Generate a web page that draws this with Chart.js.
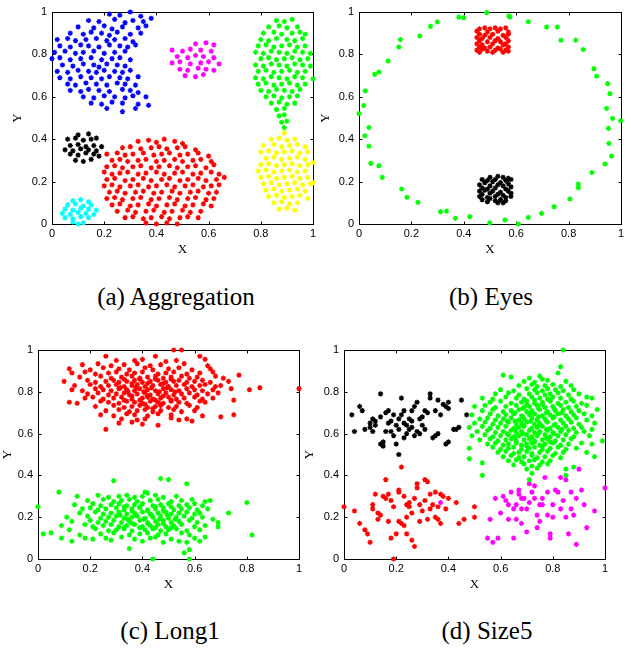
<!DOCTYPE html>
<html><head><meta charset="utf-8">
<script src="https://cdn.jsdelivr.net/npm/chart.js@4/dist/chart.umd.min.js"></script>
<style>
body{margin:0;background:#fff;width:631px;height:648px;position:relative;overflow:hidden}
.c{position:absolute}
.cap{position:absolute;font-size:25px;font-family:"Liberation Serif","DejaVu Serif Condensed","DejaVu Serif",serif;color:#000;white-space:nowrap;transform:translate(-50%,-50%)}
</style></head><body>
<canvas id="ca" class="c" width="320" height="262" style="left:0;top:0"></canvas>
<canvas id="cb" class="c" width="316" height="262" style="left:315px;top:0"></canvas>
<canvas id="cc" class="c" width="320" height="259" style="left:0;top:338px"></canvas>
<canvas id="cd" class="c" width="331" height="259" style="left:300px;top:338px"></canvas>
<div class="cap" id="capA" style="left:176px;top:297px"></div>
<div class="cap" id="capB" style="left:491px;top:297px"></div>
<div class="cap" id="capC" style="left:170px;top:631px"></div>
<div class="cap" id="capD" style="left:487px;top:631px"></div>
<script>
// ---------- tick labels ----------
const tickVals = [0, 0.2, 0.4, 0.6, 0.8, 1];
const tickLabels = ['0', '0.2', '0.4', '0.6', '0.8', '1'];
const axisTitles = ['X', 'Y'];
const captions = ['(a) Aggregation', '(b) Eyes', '(c) Long1', '(d) Size5'];

// ---------- (a) Aggregation ----------
const aggBlue = [
[.22,.99],[.26,.985],[.30,1.0],[.34,.98],
[.14,.96],[.18,.955],[.24,.965],[.28,.95],[.31,.96],[.35,.955],[.38,.97],
[.10,.93],[.16,.925],[.20,.935],[.23,.92],[.27,.93],[.33,.925],[.36,.935],
[.07,.90],[.12,.895],[.15,.905],[.19,.90],[.22,.89],[.25,.905],[.30,.895],[.34,.90],
[.02,.87],[.06,.875],[.09,.865],[.13,.87],[.17,.875],[.21,.865],[.24,.87],[.28,.875],[.31,.86],
[.03,.84],[.07,.835],[.11,.845],[.14,.84],[.18,.835],[.22,.845],[.26,.84],[.29,.835],[.32,.845],
[.01,.81],[.05,.815],[.09,.805],[.12,.81],[.16,.815],[.20,.805],[.24,.81],[.28,.815],
[.00,.78],[.03,.785],[.07,.775],[.11,.78],[.15,.785],[.19,.775],[.23,.78],[.26,.785],[.30,.775],
[.04,.75],[.08,.745],[.12,.755],[.16,.75],[.18,.74],[.21,.755],[.25,.75],[.28,.745],
[.02,.72],[.06,.715],[.10,.725],[.14,.72],[.17,.715],[.20,.725],[.24,.72],[.27,.715],[.30,.725],
[.03,.69],[.07,.685],[.11,.695],[.15,.69],[.19,.685],[.22,.695],[.26,.69],[.29,.685],[.33,.695],
[.06,.66],[.09,.655],[.13,.665],[.17,.66],[.21,.655],[.25,.665],[.28,.66],[.32,.655],
[.07,.63],[.11,.625],[.14,.635],[.18,.63],[.22,.625],[.27,.635],[.30,.63],[.33,.62],
[.12,.60],[.16,.595],[.20,.605],[.24,.60],[.28,.595],[.31,.605],[.36,.60],
[.15,.57],[.19,.565],[.23,.575],[.27,.57],[.33,.565],[.37,.56],
[.21,.545],[.27,.53],[.32,.545]
];
const aggMagenta = [
[.55,.85],[.59,.855],[.62,.845],
[.46,.82],[.50,.815],[.53,.825],[.57,.82],[.61,.815],
[.48,.79],[.52,.785],[.55,.795],[.58,.79],[.62,.785],
[.46,.76],[.49,.765],[.53,.755],[.57,.76],[.60,.765],[.64,.755],
[.49,.73],[.52,.725],[.56,.735],[.59,.73],[.62,.725],
[.51,.70],[.55,.695],[.58,.705]
];
const aggGreen = [
[.86,.96],[.89,.955],[.92,.965],
[.83,.93],[.87,.935],[.90,.925],[.94,.93],
[.81,.90],[.85,.905],[.88,.895],[.92,.90],[.95,.905],[.97,.895],
[.80,.87],[.83,.865],[.86,.875],[.90,.87],[.93,.865],[.96,.875],
[.79,.84],[.82,.845],[.85,.835],[.88,.84],[.91,.845],[.94,.835],[.97,.84],
[.78,.81],[.81,.805],[.84,.815],[.87,.81],[.90,.805],[.93,.815],[.96,.81],[.99,.805],
[.80,.78],[.83,.785],[.86,.775],[.89,.78],[.92,.785],[.95,.775],[.98,.78],
[.78,.75],[.81,.745],[.84,.755],[.87,.75],[.90,.745],[.93,.755],[.96,.75],[.99,.745],
[.79,.72],[.82,.725],[.85,.715],[.88,.72],[.91,.725],[.94,.715],[.97,.72],
[.78,.69],[.81,.685],[.84,.695],[.87,.69],[.90,.685],[.93,.695],[.96,.69],[1.0,.685],
[.79,.66],[.82,.665],[.85,.655],[.88,.66],[.91,.665],[.94,.655],[.97,.66],
[.80,.63],[.83,.625],[.86,.635],[.89,.63],[.92,.625],[.95,.635],
[.82,.60],[.85,.605],[.88,.595],[.91,.60],[.94,.605],
[.84,.57],[.87,.575],[.90,.565],[.93,.57],
[.86,.54],[.89,.545],[.87,.51],[.89,.515],[.88,.48],[.90,.485],[.89,.455]
];
const aggYellow = [
[.89,.43],
[.84,.40],[.87,.405],[.90,.395],[.93,.40],
[.81,.37],[.85,.375],[.88,.365],[.91,.37],[.94,.375],[.97,.365],
[.80,.34],[.83,.345],[.86,.335],[.89,.34],[.92,.345],[.95,.335],[.98,.34],
[.82,.31],[.85,.315],[.88,.305],[.91,.31],[.94,.315],[.97,.305],
[.80,.28],[.83,.285],[.86,.275],[.89,.28],[.92,.285],[.95,.275],[.98,.28],[1.0,.29],
[.79,.25],[.82,.255],[.85,.245],[.88,.25],[.91,.255],[.94,.245],[.97,.25],
[.80,.22],[.83,.225],[.86,.215],[.89,.22],[.92,.225],[.95,.215],[.98,.22],[1.0,.195],
[.81,.19],[.84,.195],[.87,.185],[.90,.19],[.93,.195],[.96,.185],[.99,.19],
[.82,.16],[.85,.165],[.88,.155],[.91,.16],[.94,.165],[.97,.155],
[.83,.13],[.86,.135],[.89,.125],[.92,.13],[.95,.135],[.98,.12],
[.85,.10],[.88,.105],[.91,.095],[.94,.10],
[.87,.07],[.90,.075],[.93,.065]
];
const aggBlack = [
[.10,.42],[.14,.425],
[.06,.40],[.09,.405],[.12,.395],[.15,.40],[.17,.405],
[.07,.37],[.10,.375],[.13,.365],[.16,.37],[.19,.365],
[.05,.35],[.08,.345],[.11,.355],[.14,.35],[.17,.345],
[.07,.33],[.10,.325],[.13,.335],[.16,.33],[.18,.32],
[.09,.30],[.12,.295],[.15,.305]
];
const aggCyan = [
[.08,.11],[.11,.115],[.14,.105],
[.06,.09],[.09,.095],[.12,.085],[.15,.09],
[.05,.07],[.08,.065],[.11,.075],[.14,.07],[.17,.065],
[.04,.05],[.07,.045],[.10,.055],[.13,.05],[.16,.045],
[.05,.03],[.08,.025],[.11,.035],[.14,.03],
[.08,.01],[.12,.005],[.10,.0]
];
const aggRed = [
[.33,.39],[.37,.395],[.40,.385],[.43,.40],[.47,.39],[.50,.38],
[.27,.36],[.30,.365],[.34,.355],[.38,.36],[.41,.365],[.44,.355],[.48,.36],[.51,.365],[.55,.35],
[.21,.33],[.25,.335],[.28,.325],[.31,.33],[.35,.335],[.39,.325],[.42,.33],[.45,.335],[.49,.325],[.52,.33],[.56,.335],[.60,.32],
[.23,.30],[.26,.305],[.29,.295],[.33,.30],[.36,.305],[.40,.295],[.43,.30],[.47,.305],[.50,.295],[.54,.30],[.57,.305],[.61,.295],
[.21,.27],[.24,.275],[.27,.265],[.31,.27],[.34,.275],[.38,.265],[.41,.27],[.45,.275],[.48,.265],[.52,.27],[.55,.275],[.59,.265],[.62,.28],
[.20,.245],[.23,.235],[.26,.24],[.29,.245],[.33,.235],[.36,.24],[.40,.245],[.43,.235],[.47,.24],[.50,.245],[.54,.235],[.57,.24],[.61,.245],[.64,.235],
[.21,.21],[.24,.215],[.28,.205],[.31,.21],[.35,.215],[.38,.205],[.42,.21],[.45,.215],[.49,.205],[.52,.21],[.56,.215],[.59,.205],[.63,.21],[.66,.22],
[.20,.18],[.23,.185],[.26,.175],[.30,.18],[.33,.185],[.37,.175],[.40,.18],[.44,.185],[.47,.175],[.51,.18],[.54,.185],[.58,.175],[.61,.18],[.64,.185],
[.22,.15],[.25,.155],[.28,.145],[.32,.15],[.35,.155],[.39,.145],[.42,.15],[.46,.155],[.49,.145],[.53,.15],[.56,.155],[.60,.145],[.63,.15],
[.21,.12],[.24,.125],[.27,.115],[.31,.12],[.34,.125],[.38,.115],[.41,.12],[.45,.125],[.48,.115],[.52,.12],[.55,.125],[.59,.115],[.62,.12],
[.23,.09],[.26,.095],[.30,.085],[.33,.09],[.37,.095],[.40,.085],[.44,.09],[.47,.095],[.51,.085],[.54,.09],[.58,.095],[.61,.085],
[.25,.06],[.29,.065],[.32,.055],[.36,.06],[.39,.065],[.43,.055],[.46,.06],[.50,.065],[.53,.055],[.57,.06],
[.28,.03],[.31,.035],[.35,.025],[.38,.03],[.42,.035],[.45,.025],[.49,.03],[.52,.035],[.56,.03],
[.36,.005],[.40,.0],[.44,.005],[.48,.0]
];

// ---------- (b) Eyes ----------
const eyesGreen = [
[.487,.997],[.381,.976],[.400,.973],[.572,.981],[.576,.976],[.646,.954],[.716,.929],[.757,.929],
[.771,.867],[.827,.867],[.856,.823],[.897,.733],[.907,.697],[.949,.662],[.958,.615],[.945,.545],
[.968,.498],[.999,.487],[.952,.451],[.954,.380],[.964,.320],[.939,.283],[.889,.243],[.837,.188],
[.837,.171],[.805,.118],[.745,.082],[.697,.050],[.646,.031],[.608,.0],[.557,.019],[.499,.006],
[.423,.035],[.368,.027],[.334,.061],[.311,.058],[.225,.102],[.183,.126],[.163,.165],[.089,.220],
[.076,.275],[.045,.286],[.038,.367],[.022,.416],[.038,.455],[.0,.521],[.018,.559],[.024,.628],
[.060,.706],[.076,.717],[.111,.769],[.152,.835],[.158,.870],[.232,.887],[.273,.932],[.299,.953]
];
const eyesRed = [
[.46,.92],[.48,.925],[.50,.92],[.52,.925],[.54,.92],[.56,.925],
[.45,.91],[.49,.905],[.53,.91],[.57,.905],
[.46,.895],[.48,.89],[.51,.895],[.55,.89],[.57,.895],
[.45,.88],[.47,.875],[.50,.88],[.53,.875],[.56,.88],
[.46,.865],[.49,.86],[.52,.865],[.54,.86],[.57,.865],
[.45,.85],[.47,.845],[.51,.85],[.55,.845],[.56,.85],
[.46,.835],[.48,.83],[.50,.835],[.53,.83],[.57,.835],
[.45,.82],[.47,.825],[.52,.82],[.54,.825],[.56,.82],
[.46,.81],[.49,.815],[.51,.81],[.55,.81],[.57,.815]
];
const eyesBlack = [
[.50,.22],[.53,.225],[.55,.22],[.57,.215],
[.47,.21],[.49,.205],[.52,.21],[.56,.205],[.58,.21],
[.48,.195],[.51,.20],[.54,.195],[.57,.19],
[.46,.185],[.50,.18],[.53,.185],[.55,.18],[.58,.175],
[.47,.17],[.49,.165],[.52,.17],[.56,.165],
[.46,.155],[.48,.16],[.51,.155],[.54,.15],[.57,.155],[.58,.145],
[.47,.14],[.50,.145],[.53,.14],[.55,.135],
[.46,.13],[.49,.125],[.52,.13],[.56,.125],[.58,.13],
[.47,.115],[.50,.12],[.54,.115],[.56,.11],
[.49,.105],[.52,.11],[.55,.10],[.53,.10]
];

// ---------- (c) Long1 ----------
const longRed = [
[.52,1.0],[.55,1.0],[.62,.97],[.26,.97],[.45,.97],
[.30,.95],[.37,.95],[.40,.955],[.49,.945],[.53,.95],[.64,.955],
[.17,.93],[.23,.935],[.28,.925],[.33,.93],[.38,.935],[.43,.925],[.47,.93],[.56,.935],[.65,.925],
[.12,.91],[.20,.905],[.25,.915],[.31,.91],[.35,.905],[.41,.915],[.44,.905],[.50,.91],[.54,.915],[.59,.905],[.66,.91],
[.13,.89],[.18,.895],[.22,.885],[.27,.89],[.30,.895],[.34,.885],[.37,.89],[.40,.895],[.46,.885],[.49,.89],[.52,.895],[.57,.885],[.62,.89],[.67,.895],[.77,.88],
[.16,.87],[.24,.875],[.28,.865],[.32,.87],[.36,.875],[.39,.865],[.42,.87],[.45,.875],[.48,.865],[.51,.87],[.55,.875],[.58,.865],[.61,.87],[.68,.875],[.71,.865],
[.10,.85],[.19,.855],[.22,.845],[.26,.85],[.29,.855],[.31,.845],[.34,.85],[.37,.855],[.40,.845],[.43,.85],[.46,.855],[.49,.845],[.52,.85],[.54,.855],[.57,.845],[.60,.85],[.63,.855],[.66,.845],[.73,.85],
[.14,.83],[.20,.835],[.24,.825],[.27,.83],[.30,.835],[.33,.825],[.36,.83],[.38,.835],[.41,.825],[.44,.83],[.47,.835],[.50,.825],[.53,.83],[.56,.835],[.59,.825],[.62,.83],[.64,.835],[.68,.825],[.70,.83],
[.85,.82],[.81,.81],[1.0,.815],
[.13,.81],[.17,.805],[.22,.815],[.25,.81],[.28,.805],[.31,.815],[.34,.81],[.37,.805],[.39,.815],[.42,.81],[.45,.805],[.48,.815],[.51,.81],[.54,.805],[.57,.815],[.60,.81],[.63,.805],[.67,.81],[.74,.815],
[.19,.79],[.23,.795],[.27,.785],[.30,.79],[.33,.795],[.35,.785],[.38,.79],[.41,.795],[.43,.785],[.46,.79],[.49,.795],[.52,.785],[.55,.79],[.58,.795],[.61,.785],[.65,.79],[.69,.795],
[.18,.77],[.21,.775],[.25,.765],[.29,.77],[.32,.775],[.36,.765],[.40,.77],[.42,.775],[.44,.765],[.47,.77],[.50,.775],[.53,.765],[.56,.77],[.60,.775],[.63,.765],[.67,.77],[.75,.76],
[.12,.75],[.15,.745],[.24,.755],[.27,.75],[.31,.745],[.34,.755],[.37,.75],[.40,.745],[.43,.755],[.46,.75],[.48,.745],[.51,.755],[.54,.75],[.57,.745],[.62,.755],[.64,.75],
[.22,.73],[.29,.735],[.33,.725],[.36,.73],[.39,.735],[.42,.725],[.45,.73],[.47,.735],[.50,.725],[.53,.73],[.58,.735],[.61,.725],
[.26,.71],[.31,.715],[.35,.705],[.38,.71],[.41,.715],[.44,.705],[.47,.71],[.52,.715],[.55,.705],[.60,.71],
[.24,.69],[.29,.685],[.34,.695],[.37,.69],[.42,.685],[.46,.695],[.51,.69],[.63,.685],[.70,.68],[.75,.69],
[.32,.67],[.38,.665],[.41,.67],[.51,.675],[.54,.665],[.57,.67],
[.31,.65],[.36,.655],[.40,.645],[.46,.64],[.59,.66],[.26,.62],
[.315,.82],[.345,.80],[.375,.82],[.405,.80],[.435,.82],[.465,.80],[.495,.82],[.525,.80],
[.33,.86],[.36,.84],[.39,.86],[.42,.84],[.45,.86],[.48,.84],[.51,.86],
[.33,.76],[.36,.78],[.39,.76],[.42,.78],[.45,.76],[.48,.78],[.51,.76],[.44,.72],[.47,.74],[.41,.74]
];
const longGreen = [
[.29,.375],[.47,.385],[.50,.38],[.57,.36],
[.08,.32],[.41,.32],[.42,.315],
[.15,.30],[.23,.305],[.27,.295],[.31,.30],[.34,.305],[.37,.295],[.40,.30],[.45,.305],[.48,.295],[.53,.30],
[.19,.28],[.25,.285],[.29,.275],[.32,.28],[.35,.285],[.38,.275],[.43,.28],[.46,.285],[.51,.275],[.55,.28],[.59,.285],[.64,.275],[.66,.28],
[.80,.27],[.00,.25],
[.14,.26],[.21,.265],[.24,.255],[.28,.26],[.31,.265],[.34,.255],[.37,.26],[.40,.265],[.44,.255],[.47,.26],[.50,.265],[.54,.255],[.57,.26],[.60,.265],[.63,.255],
[.17,.24],[.20,.245],[.23,.235],[.26,.24],[.30,.245],[.33,.235],[.36,.24],[.39,.245],[.42,.235],[.45,.24],[.48,.245],[.52,.235],[.55,.24],[.58,.245],[.61,.235],[.65,.24],
[.16,.22],[.22,.225],[.25,.215],[.28,.22],[.31,.225],[.34,.215],[.37,.22],[.40,.225],[.43,.215],[.46,.22],[.49,.225],[.51,.215],[.54,.22],[.57,.225],[.60,.215],[.62,.22],[.73,.22],
[.11,.20],[.19,.205],[.24,.195],[.27,.20],[.30,.205],[.33,.195],[.36,.20],[.38,.205],[.41,.195],[.44,.20],[.47,.205],[.50,.195],[.53,.20],[.56,.205],[.59,.195],[.63,.20],[.67,.19],
[.13,.18],[.20,.185],[.23,.175],[.26,.18],[.29,.185],[.32,.175],[.35,.18],[.39,.185],[.42,.175],[.45,.18],[.48,.185],[.51,.175],[.54,.18],[.58,.185],[.61,.175],[.69,.175],
[.09,.16],[.18,.165],[.21,.155],[.25,.16],[.28,.165],[.31,.155],[.34,.16],[.37,.165],[.40,.155],[.43,.16],[.46,.165],[.49,.155],[.52,.16],[.55,.165],[.60,.155],[.64,.16],[.69,.155],
[.12,.14],[.22,.145],[.27,.135],[.30,.14],[.33,.145],[.36,.135],[.41,.14],[.44,.145],[.47,.135],[.50,.14],[.53,.145],[.57,.135],[.62,.14],
[.02,.12],[.05,.125],[.16,.115],[.24,.12],[.29,.125],[.35,.115],[.39,.12],[.42,.125],[.46,.115],[.49,.12],[.55,.125],[.58,.115],[.82,.115],
[.09,.10],[.18,.10],[.21,.095],[.26,.10],[.32,.105],[.37,.095],[.43,.10],[.45,.105],[.51,.095],[.60,.10],[.64,.105],
[.13,.085],[.28,.09],[.40,.085],[.48,.08],[.54,.085],[.57,.08],[.62,.085],
[.35,.05],[.58,.045],[.56,.03],[.44,.0],[.58,.0],
[.315,.21],[.345,.19],[.375,.21],[.405,.19],[.435,.21],[.465,.19],[.495,.21],[.525,.19],
[.33,.25],[.36,.23],[.39,.25],[.42,.23],[.45,.25],[.48,.23],[.51,.25],
[.33,.15],[.36,.17],[.39,.15],[.42,.17],[.45,.15],[.48,.17],[.51,.15]
];

// ---------- (d) Size5 ----------
const sizeBlack = [
[.03,.69],[.04,.61],[.06,.73],[.07,.71],[.10,.65],[.10,.63],[.11,.67],[.12,.66],[.14,.79],[.14,.68],
[.14,.55],[.15,.56],[.16,.61],[.17,.65],[.17,.71],[.18,.66],[.19,.59],[.19,.69],[.20,.55],[.20,.64],
[.21,.50],[.22,.77],[.22,.69],[.23,.65],[.23,.58],[.24,.64],[.25,.67],[.25,.62],[.26,.71],[.26,.63],
[.27,.73],[.28,.61],[.28,.75],[.29,.67],[.30,.64],[.31,.71],[.31,.62],[.33,.79],[.33,.77],[.34,.58],
[.35,.71],[.35,.59],[.36,.76],[.37,.69],[.38,.74],[.39,.73],[.39,.55],[.40,.75],[.40,.72],[.42,.62],
[.43,.62],[.45,.76],[.47,.69],[.12,.64],[.15,.54],[.18,.61],[.21,.62],[.24,.60],[.26,.66],[.27,.59],
[.29,.60],[.32,.70],[.36,.60],[.08,.62],[.16,.70],[.21,.67],[.30,.68],[.11,.61],[.23,.71],[.40,.56],[.44,.63]
];
const sizeRed = [
[0,.25],[.04,.23],[.06,.17],[.08,.14],[.09,.12],[.10,.08],[.11,.24],[.11,.26],[.12,.31],[.13,.22],
[.14,.21],[.16,.38],[.16,.29],[.17,.31],[.17,.18],[.18,.10],[.18,.28],[.20,.12],[.19,.0],[.21,.33],
[.21,.32],[.22,.44],[.21,.18],[.22,.17],[.23,.16],[.24,.26],[.24,.12],[.25,.27],[.25,.25],[.26,.09],
[.27,.06],[.27,.29],[.28,.34],[.28,.36],[.29,.26],[.30,.23],[.31,.38],[.32,.37],[.32,.19],[.33,.24],
[.34,.26],[.35,.20],[.35,.32],[.36,.19],[.37,.31],[.38,.30],[.39,.24],[.43,.27],[.44,.17],[.46,.19],
[.50,.25],[.50,.20],[.15,.30],[.19,.25],[.23,.30],[.26,.22],[.29,.18],[.31,.28],[.36,.25],[.40,.29],
[.13,.19],[.24,.20],[.37,.17],[.33,.31]
];
const sizeMagenta = [
[.55,.10],[.57,.08],[.56,.19],[.59,.10],[.58,.29],[.61,.30],[.62,.28],[.63,.26],[.63,.19],[.65,.24],
[.65,.10],[.66,.19],[.67,.31],[.67,.33],[.68,.29],[.68,.24],[.68,.17],[.69,.29],[.71,.36],[.71,.27],
[.73,.35],[.73,.29],[.74,.21],[.74,.15],[.75,.26],[.76,.26],[.77,.39],[.78,.32],[.78,.21],[.79,.12],
[.79,.10],[.80,.26],[.80,.20],[.81,.33],[.82,.32],[.84,.28],[.85,.20],[.85,.38],[.86,.12],[.87,.32],
[.87,.24],[.88,.21],[.89,.07],[.89,.29],[.91,.33],[.93,.15],[.96,.23],[1.0,.34],[.37,.27],[.70,.24],
[.72,.32],[.76,.29],[.83,.24],[.64,.32],[.60,.22],[.90,.43],[.83,.39],[.92,.26],[.75,.18],[.70,.13],[.66,.26]
];
const sizeGreen = [
[.84,1.0],[.83,.92],[.82,.89],[.61,.88],
[.64,.87],[.71,.865],[.75,.875],[.76,.86],
[.69,.85],[.73,.845],[.78,.855],[.85,.85],
[.67,.83],[.72,.835],[.74,.825],[.77,.83],[.80,.835],[.83,.825],[.87,.83],
[.60,.81],[.65,.805],[.70,.815],[.73,.81],[.76,.805],[.78,.815],[.81,.81],[.84,.805],[.88,.81],
[.58,.79],[.63,.795],[.67,.785],[.71,.79],[.74,.795],[.77,.785],[.79,.79],[.82,.795],[.86,.785],[.90,.79],
[.53,.77],[.57,.765],[.62,.775],[.66,.77],[.69,.765],[.72,.775],[.75,.77],[.78,.765],[.80,.775],[.83,.77],[.87,.765],[.93,.775],[.95,.77],
[.56,.75],[.60,.755],[.64,.745],[.68,.75],[.70,.755],[.73,.745],[.76,.75],[.79,.755],[.82,.745],[.85,.75],[.88,.755],[.91,.745],
[.50,.73],[.54,.735],[.58,.725],[.62,.73],[.66,.735],[.69,.725],[.71,.73],[.74,.735],[.77,.725],[.80,.73],[.83,.735],[.86,.725],[.89,.73],[.93,.735],[.97,.715],
[.53,.71],[.57,.715],[.61,.705],[.64,.71],[.67,.715],[.70,.705],[.72,.71],[.75,.715],[.78,.705],[.81,.71],[.84,.715],[.87,.705],[.90,.71],
[.49,.69],[.56,.695],[.59,.685],[.62,.69],[.65,.695],[.68,.685],[.71,.69],[.73,.695],[.76,.685],[.79,.69],[.82,.695],[.85,.685],[.88,.69],[.92,.695],[.95,.685],
[.52,.67],[.55,.675],[.58,.665],[.61,.67],[.64,.675],[.67,.665],[.69,.67],[.72,.675],[.74,.665],[.77,.67],[.80,.675],[.83,.665],[.86,.67],[.89,.675],[.93,.665],
[.50,.65],[.54,.655],[.57,.645],[.60,.65],[.63,.655],[.66,.645],[.68,.65],[.70,.655],[.73,.645],[.75,.65],[.78,.655],[.81,.645],[.84,.65],[.87,.655],[.90,.645],[.96,.65],
[.48,.63],[.53,.635],[.56,.625],[.59,.63],[.62,.635],[.65,.625],[.67,.63],[.69,.635],[.72,.625],[.74,.63],[.76,.635],[.79,.625],[.82,.63],[.85,.635],[.88,.625],[.91,.63],[.95,.62],
[.51,.61],[.55,.615],[.58,.605],[.61,.61],[.64,.615],[.66,.605],[.68,.61],[.71,.615],[.73,.605],[.75,.61],[.78,.615],[.80,.605],[.83,.61],[.86,.615],[.89,.605],[.92,.61],
[.49,.59],[.54,.595],[.57,.585],[.60,.59],[.63,.595],[.65,.585],[.67,.59],[.70,.595],[.72,.585],[.74,.59],[.77,.595],[.79,.585],[.82,.59],[.85,.595],[.88,.585],[.94,.59],
[.52,.57],[.56,.575],[.59,.565],[.62,.57],[.64,.575],[.66,.565],[.69,.57],[.71,.575],[.73,.565],[.76,.57],[.78,.575],[.81,.565],[.84,.57],[.87,.575],[.99,.565],
[.55,.55],[.58,.555],[.61,.545],[.63,.55],[.66,.555],[.68,.545],[.70,.55],[.72,.555],[.75,.545],[.77,.55],[.80,.555],[.83,.545],[.86,.55],[.91,.555],[.95,.55],
[.48,.53],[.57,.535],[.60,.525],[.63,.53],[.65,.535],[.68,.525],[.71,.53],[.73,.535],[.76,.525],[.79,.53],[.82,.535],[.85,.525],[.89,.53],
[.59,.51],[.62,.515],[.65,.505],[.67,.51],[.70,.515],[.72,.505],[.75,.51],[.78,.515],[.81,.505],[.84,.51],[.93,.51],
[.61,.49],[.64,.495],[.67,.485],[.69,.49],[.72,.495],[.74,.485],[.77,.49],[.80,.495],[.83,.485],[.96,.49],
[.48,.48],[.53,.46],[.63,.47],[.66,.475],[.68,.465],[.71,.47],[.73,.475],[.76,.465],[.79,.47],
[.65,.45],[.69,.455],[.72,.445],[.75,.45],[.78,.455],[.88,.44],
[.70,.43],[.74,.435],[.85,.43],[.53,.40],[.72,.41],[.85,.40],[.71,.38],
[.655,.70],[.685,.72],[.715,.70],[.745,.72],[.775,.70],[.805,.72],
[.655,.66],[.685,.68],[.715,.66],[.745,.68],[.775,.66],[.805,.68],
[.655,.62],[.685,.64],[.715,.62],[.745,.64],[.775,.62],[.805,.64],
[.655,.58],[.685,.60],[.715,.58],[.745,.60],[.775,.58],[.805,.60],
[.70,.74],[.73,.76],[.76,.74],[.79,.76],[.70,.54],[.73,.56],[.76,.54],[.79,.56],[.625,.66],[.835,.70],[.835,.62],[.625,.60]
];

// ---------- colours ----------
const C = {red:'#ff0000', green:'#00ff00', blue:'#0000ff', magenta:'#ff00ff', cyan:'#00ffff', yellow:'#ffff00', black:'#000000'};
const SERIF = '"Liberation Serif", "DejaVu Serif", serif';

['capA','capB','capC','capD'].forEach((id, i) => { document.getElementById(id).textContent = captions[i]; });

const frame = {
  id:'frame',
  beforeDatasetsDraw(chart){
    const {ctx, chartArea:a, scales:{x, y}} = chart;
    const L = Math.round(a.left)+0.5, R = Math.round(a.right)+0.5, T = Math.round(a.top)+0.5, B = Math.round(a.bottom)+0.5;
    ctx.save();
    ctx.strokeStyle = '#000'; ctx.lineWidth = 1;
    ctx.strokeRect(L, T, R-L, B-T);
    ctx.beginPath();
    x.ticks.forEach(t => { const p = Math.round(x.getPixelForValue(t.value))+0.5; ctx.moveTo(p,B); ctx.lineTo(p,B-3); ctx.moveTo(p,T); ctx.lineTo(p,T+3); });
    y.ticks.forEach(t => { const p = Math.round(y.getPixelForValue(t.value))+0.5; ctx.moveTo(L,p); ctx.lineTo(L+3,p); ctx.moveTo(R,p); ctx.lineTo(R-3,p); });
    ctx.stroke();
    ctx.restore();
  }
};

function ds(data, color){
  return {data: data.map(p => ({x:p[0], y:p[1]})), pointStyle:'star', pointRadius:2.6, pointBorderWidth:1.3,
    borderColor:color, backgroundColor:color, showLine:false, clip:false};
}

function make(id, datasets, g){
  const axisCommon = {
    type:'linear', min:0, max:1,
    grid:{display:false, drawTicks:false}, border:{display:false},
    afterBuildTicks: s => { s.ticks = tickVals.map(v => ({value:v})); },
  };
  new Chart(document.getElementById(id), {
    type:'scatter',
    data:{datasets},
    plugins:[frame],
    options:{
      responsive:false, animation:false, events:[],
      layout:{padding:{left:0, top:g.top, right:g.right, bottom:0}},
      plugins:{legend:{display:false}, tooltip:{enabled:false}},
      scales:{
        x:Object.assign({}, axisCommon, {
          position:'bottom',
          ticks:{color:'#000', font:{family:'Liberation Sans', size:11}, padding:3, maxRotation:0, autoSkip:false,
                 callback:(v,i)=>tickLabels[i]},
          title:{display:true, text:axisTitles[0], color:'#000', font:{family:SERIF, size:13}, padding:{top:0,bottom:5}},
          afterFit: s => { s.height = g.xh; }
        }),
        y:Object.assign({}, axisCommon, {
          position:'left',
          ticks:{color:'#000', font:{family:'Liberation Sans', size:11}, padding:5, autoSkip:false,
                 callback:(v,i)=>tickLabels[i]},
          title:{display:true, text:axisTitles[1], color:'#000', font:{family:SERIF, size:13}, padding:{top:g.yt,bottom:0}},
          afterFit: s => { s.width = g.yw; }
        })
      }
    }
  });
}

make('ca', [ds(aggBlue,C.blue), ds(aggMagenta,C.magenta), ds(aggGreen,C.green), ds(aggYellow,C.yellow),
            ds(aggBlack,C.black), ds(aggCyan,C.cyan), ds(aggRed,C.red)],
     {top:12, right:7, yw:52, xh:38, yt:10});
make('cb', [ds(eyesGreen,C.green), ds(eyesRed,C.red), ds(eyesBlack,C.black)],
     {top:12, right:10, yw:44, xh:38, yt:3});
make('cc', [ds(longRed,C.red), ds(longGreen,C.green)],
     {top:12, right:21, yw:38, xh:38, yt:0});
make('cd', [ds(sizeBlack,C.black), ds(sizeRed,C.red), ds(sizeGreen,C.green), ds(sizeMagenta,C.magenta)],
     {top:12, right:26, yw:44, xh:38, yt:2});
</script>
</body></html>
